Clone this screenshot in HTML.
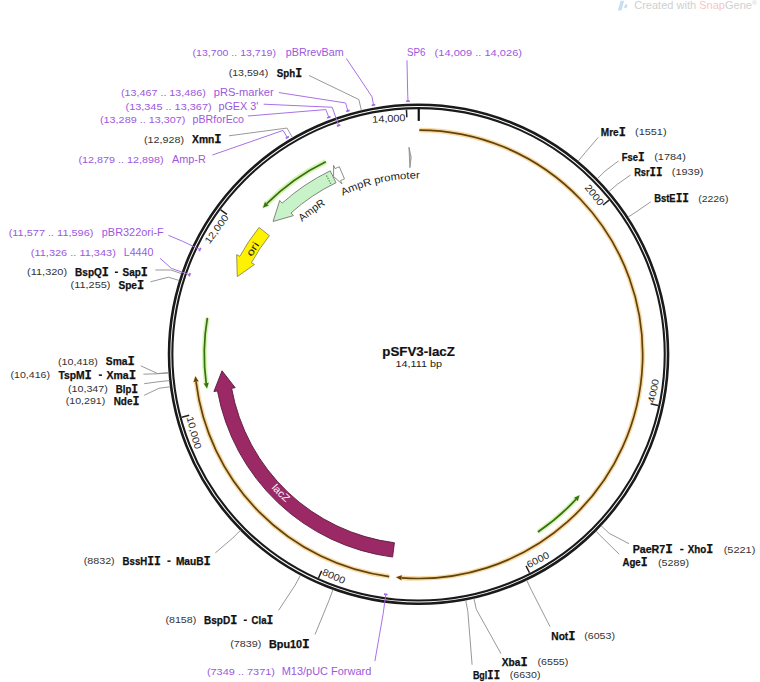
<!DOCTYPE html>
<html><head><meta charset="utf-8"><title>pSFV3-lacZ</title>
<style>
html,body{margin:0;padding:0;background:#fff;}
body{width:760px;height:682px;overflow:hidden;}
svg{display:block;font-family:"Liberation Sans",sans-serif;}
</style></head>
<body>
<svg width="760" height="682" viewBox="0 0 760 682">
<circle cx="418.55" cy="354.3" r="249.5" fill="none" stroke="#1a1a1a" stroke-width="2.6"/>
<circle cx="418.55" cy="354.3" r="246.2" fill="none" stroke="#1a1a1a" stroke-width="2.1"/>
<line x1="609.02" y1="200.2" x2="603.03" y2="205.04" stroke="#222" stroke-width="1.5"/>
<text transform="translate(418.55,354.3) rotate(51.02)" x="-1.4" y="-233.6" font-size="9.7" fill="#2a2a2a" text-anchor="end" textLength="23.91" lengthAdjust="spacingAndGlyphs">2000</text>
<line x1="658.15" y1="405.44" x2="650.62" y2="403.83" stroke="#222" stroke-width="1.5"/>
<text transform="translate(418.55,354.3) rotate(-77.95)" x="1.4" y="240.6" font-size="9.7" fill="#2a2a2a" textLength="23.91" lengthAdjust="spacingAndGlyphs">4000</text>
<line x1="529.5" y1="572.74" x2="526.02" y2="565.87" stroke="#222" stroke-width="1.5"/>
<text transform="translate(418.55,354.3) rotate(-26.93)" x="1.4" y="240.6" font-size="9.7" fill="#2a2a2a" textLength="23.91" lengthAdjust="spacingAndGlyphs">6000</text>
<line x1="318.52" y1="577.95" x2="321.67" y2="570.92" stroke="#222" stroke-width="1.5"/>
<text transform="translate(418.55,354.3) rotate(24.1)" x="1.4" y="240.6" font-size="9.7" fill="#2a2a2a" textLength="23.91" lengthAdjust="spacingAndGlyphs">8000</text>
<line x1="181.77" y1="417.21" x2="189.21" y2="415.24" stroke="#222" stroke-width="1.5"/>
<text transform="translate(418.55,354.3) rotate(75.12)" x="1.4" y="240.6" font-size="9.7" fill="#2a2a2a" textLength="33.31" lengthAdjust="spacingAndGlyphs">10,000</text>
<line x1="220.7" y1="209.79" x2="226.92" y2="214.34" stroke="#222" stroke-width="1.5"/>
<text transform="translate(418.55,354.3) rotate(-53.86)" x="-1.4" y="-233.6" font-size="9.7" fill="#2a2a2a" text-anchor="end" textLength="33.31" lengthAdjust="spacingAndGlyphs">12,000</text>
<line x1="406.45" y1="109.6" x2="406.83" y2="117.29" stroke="#222" stroke-width="1.5"/>
<text transform="translate(418.55,354.3) rotate(-2.83)" x="-1.4" y="-233.6" font-size="9.7" fill="#2a2a2a" text-anchor="end" textLength="33.31" lengthAdjust="spacingAndGlyphs">14,000</text>
<line x1="418.75" y1="108.8" x2="418.75" y2="120.9" stroke="#111" stroke-width="2.2"/>
<g opacity="0.6"><path d="M419.33,130.1 A224.2,224.2 0 1 1 401.57,577.86" fill="none" stroke="#f6c066" stroke-width="4.6" stroke-linecap="butt"/><path d="M396.09,577.37 L401.38,580.35 L401.76,575.36 Z" fill="#f6c066" stroke="#f6c066" stroke-width="1.0999999999999996" stroke-linejoin="round"/></g><path d="M419.33,130.1 A224.2,224.2 0 1 1 401.57,577.86" fill="none" stroke="#5f430e" stroke-width="1.7"/><path d="M396.09,577.37 L401.38,580.35 L401.76,575.36 Z" fill="#5f430e"/>
<g opacity="0.6"><path d="M389.29,576.58 A224.2,224.2 0 0 1 196.02,381.64" fill="none" stroke="#f6c066" stroke-width="4.6" stroke-linecap="butt"/><path d="M195.42,376.18 L193.54,381.95 L198.51,381.34 Z" fill="#f6c066" stroke="#f6c066" stroke-width="1.0999999999999996" stroke-linejoin="round"/></g><path d="M389.29,576.58 A224.2,224.2 0 0 1 196.02,381.64" fill="none" stroke="#5f430e" stroke-width="1.7"/><path d="M195.42,376.18 L193.54,381.95 L198.51,381.34 Z" fill="#5f430e"/>
<g opacity="0.9"><path d="M325.83,161.65 A213.8,213.8 0 0 0 266.78,203.72" fill="none" stroke="#cff5a8" stroke-width="5.2" stroke-linecap="butt"/><path d="M262.95,207.67 L265,201.96 L268.55,205.48 Z" fill="#cff5a8" stroke="#cff5a8" stroke-width="1.7000000000000002" stroke-linejoin="round"/></g><path d="M325.83,161.65 A213.8,213.8 0 0 0 266.78,203.72" fill="none" stroke="#3a6e12" stroke-width="1.7"/><path d="M262.95,207.67 L265,201.96 L268.55,205.48 Z" fill="#3a6e12"/>
<g opacity="0.85"><path d="M207.38,317.82 A214.3,214.3 0 0 0 206.2,383.12" fill="none" stroke="#cff5a8" stroke-width="4.8" stroke-linecap="butt"/><path d="M207.01,388.56 L203.72,383.46 L208.67,382.79 Z" fill="#cff5a8" stroke="#cff5a8" stroke-width="1.2999999999999998" stroke-linejoin="round"/></g><path d="M207.38,317.82 A214.3,214.3 0 0 0 206.2,383.12" fill="none" stroke="#3a6e12" stroke-width="1.7"/><path d="M207.01,388.56 L203.72,383.46 L208.67,382.79 Z" fill="#3a6e12"/>
<g opacity="0.85"><path d="M537.91,531.92 A214,214 0 0 0 575.89,499.35" fill="none" stroke="#cff5a8" stroke-width="4.8" stroke-linecap="butt"/><path d="M579.57,495.26 L577.73,501.05 L574.05,497.66 Z" fill="#cff5a8" stroke="#cff5a8" stroke-width="1.2999999999999998" stroke-linejoin="round"/></g><path d="M537.91,531.92 A214,214 0 0 0 575.89,499.35" fill="none" stroke="#3a6e12" stroke-width="1.7"/><path d="M579.57,495.26 L577.73,501.05 L574.05,497.66 Z" fill="#3a6e12"/>
<path d="M392.58,557.04 A204.4,204.4 0 0 1 217.46,390.92 L213.92,391.56 L222.04,370.8 L235.17,387.69 L231.62,388.34  A190,190 0 0 0 394.41,542.76 Z" fill="#9a2966" stroke="#5c1a3c" stroke-width="0.9" stroke-linejoin="miter"/>
<path d="M330.26,170.84 A203.6,203.6 0 0 0 282.12,203.17 L279.71,200.5 L273.07,221.46 L293.38,215.64 L290.96,212.97  A190.4,190.4 0 0 1 335.98,182.73 Z" fill="#c8f3c8" stroke="#808880" stroke-width="1.0" stroke-linejoin="miter"/>
<path d="M339.32,166.75 A203.6,203.6 0 0 0 335.05,168.61 L333.57,165.33 L333.58,176.56 L341.94,183.93 L340.46,180.65  A190.4,190.4 0 0 1 344.46,178.91 Z" fill="#ffffff" stroke="#808080" stroke-width="0.9" stroke-linejoin="miter"/>
<line x1="326.43" y1="175.43" x2="330.73" y2="183.79" stroke="#4f8a4f" stroke-width="1.1" stroke-dasharray="1.4 1.3"/>
<path d="M259.05,227.43 A203.8,203.8 0 0 0 239.82,256.37 L236.67,254.64 L237.3,276.61 L254.56,264.44 L251.4,262.71  A190.6,190.6 0 0 1 269.38,235.65 Z" fill="#fff200" stroke="#8a8a50" stroke-width="0.9" stroke-linejoin="miter"/>
<path d="M408.97,147.32 L411.15,157.24 L409.91,167.7 Z" fill="#d0d0d0" stroke="#808080" stroke-width="0.8" stroke-linejoin="round"/>
<path id="tp1" d="M242.66,343.85 A176.2,176.2 0 0 1 459.38,182.9" fill="none"/><text font-size="10.5" fill="#222" font-weight="normal"><textPath href="#tp1" startOffset="50%" text-anchor="middle" textLength="29.5" lengthAdjust="spacingAndGlyphs">AmpR</textPath></text>
<path id="tp2" d="M262.47,273.4 A175.8,175.8 0 0 1 525.33,214.64" fill="none"/><text font-size="10.4" fill="#222" font-weight="normal"><textPath href="#tp2" startOffset="50%" text-anchor="middle" textLength="79.5" lengthAdjust="spacingAndGlyphs">AmpR promoter</textPath></text>
<path id="tp3" d="M234.58,412.66 A193,193 0 0 1 393.02,163" fill="none"/><text font-size="10.2" fill="#222" font-weight="normal"><textPath href="#tp3" startOffset="50%" text-anchor="middle" textLength="14.5" lengthAdjust="spacingAndGlyphs">ori</textPath></text>
<path id="tp4" d="M220.25,337.65 A199,199 0 0 0 436.59,552.48" fill="none"/><text font-size="10.3" fill="#fff4fa" font-weight="normal"><textPath href="#tp4" startOffset="50%" text-anchor="middle" textLength="20.8" lengthAdjust="spacingAndGlyphs">lacZ</textPath></text>
<text x="418.6" y="356" font-size="13.3" font-weight="bold" fill="#111" stroke="#111" stroke-width="0.2" text-anchor="middle" textLength="72.5" lengthAdjust="spacingAndGlyphs">pSFV3-lacZ</text>
<text x="418.8" y="367" font-size="9.2" fill="#222" text-anchor="middle" textLength="46.5" lengthAdjust="spacingAndGlyphs">14,111 bp</text>
<polyline points="309,75.5 358.84,99.5 361.41,110.51" fill="none" stroke="#8c8c8c" stroke-width="0.9"/>
<text x="228.7" y="76" font-size="9.5" fill="#333" textLength="39.5" lengthAdjust="spacingAndGlyphs">(13,594)</text>
<text x="276.8" y="76.55" font-size="10.1" fill="#111" font-weight="bold" stroke="#111" stroke-width="0.25" textLength="25.2" lengthAdjust="spacingAndGlyphs">Sph<tspan font-family="Liberation Mono" font-size="11.92">I</tspan></text>
<polyline points="229,135.8 286.99,128.07 292.67,137.84" fill="none" stroke="#8c8c8c" stroke-width="0.9"/>
<text x="144" y="142.6" font-size="9.5" fill="#333" textLength="40" lengthAdjust="spacingAndGlyphs">(12,928)</text>
<text x="192.1" y="143.15" font-size="10.1" fill="#111" font-weight="bold" stroke="#111" stroke-width="0.25" textLength="29.5" lengthAdjust="spacingAndGlyphs">Xmn<tspan font-family="Liberation Mono" font-size="11.92">I</tspan></text>
<polyline points="155.3,270 170.81,269.98 181.5,273.62" fill="none" stroke="#8c8c8c" stroke-width="0.9"/>
<text x="27.1" y="275.3" font-size="9.5" fill="#333" textLength="40" lengthAdjust="spacingAndGlyphs">(11,320)</text>
<text x="75.1" y="275.85" font-size="10.1" fill="#111" font-weight="bold" stroke="#111" stroke-width="0.25" textLength="33.8" lengthAdjust="spacingAndGlyphs">BspQ<tspan font-family="Liberation Mono" font-size="11.92">I</tspan></text>
<rect x="114.9" y="271.5" width="3" height="1.5" fill="#111"/>
<text x="122.6" y="275.85" font-size="10.1" fill="#111" font-weight="bold" stroke="#111" stroke-width="0.25" textLength="25.3" lengthAdjust="spacingAndGlyphs">Sap<tspan font-family="Liberation Mono" font-size="11.92">I</tspan></text>
<polyline points="150.5,281.8 168.47,277.19 179.27,280.51" fill="none" stroke="#8c8c8c" stroke-width="0.9"/>
<text x="70.5" y="288.4" font-size="9.5" fill="#333" textLength="40" lengthAdjust="spacingAndGlyphs">(11,255)</text>
<text x="118.4" y="288.95" font-size="10.1" fill="#111" font-weight="bold" stroke="#111" stroke-width="0.25" textLength="25.8" lengthAdjust="spacingAndGlyphs">Spe<tspan font-family="Liberation Mono" font-size="11.92">I</tspan></text>
<polyline points="140.8,365.8 157.56,373.54 168.83,372.71" fill="none" stroke="#8c8c8c" stroke-width="0.9"/>
<text x="57.9" y="364.5" font-size="9.5" fill="#333" textLength="40" lengthAdjust="spacingAndGlyphs">(10,418)</text>
<text x="105.8" y="365.05" font-size="10.1" fill="#111" font-weight="bold" stroke="#111" stroke-width="0.25" textLength="28.9" lengthAdjust="spacingAndGlyphs">Sma<tspan font-family="Liberation Mono" font-size="11.92">I</tspan></text>
<polyline points="143.4,374.2 157.58,373.77 168.84,372.93" fill="none" stroke="#8c8c8c" stroke-width="0.9"/>
<text x="10.5" y="378.2" font-size="9.5" fill="#333" textLength="39.5" lengthAdjust="spacingAndGlyphs">(10,416)</text>
<text x="58.4" y="378.75" font-size="10.1" fill="#111" font-weight="bold" stroke="#111" stroke-width="0.25" textLength="33.5" lengthAdjust="spacingAndGlyphs">TspM<tspan font-family="Liberation Mono" font-size="11.92">I</tspan></text>
<rect x="98.8" y="374.4" width="3.2" height="1.5" fill="#111"/>
<text x="106.5" y="378.75" font-size="10.1" fill="#111" font-weight="bold" stroke="#111" stroke-width="0.25" textLength="29.6" lengthAdjust="spacingAndGlyphs">Xma<tspan font-family="Liberation Mono" font-size="11.92">I</tspan></text>
<polyline points="144.2,383.7 158.3,381.78 169.53,380.59" fill="none" stroke="#8c8c8c" stroke-width="0.9"/>
<text x="67.9" y="392.1" font-size="9.5" fill="#333" textLength="40" lengthAdjust="spacingAndGlyphs">(10,347)</text>
<text x="115.8" y="392.65" font-size="10.1" fill="#111" font-weight="bold" stroke="#111" stroke-width="0.25" textLength="22.4" lengthAdjust="spacingAndGlyphs">Blp<tspan font-family="Liberation Mono" font-size="11.92">I</tspan></text>
<polyline points="144.2,395.3 159.06,388.26 170.27,386.79" fill="none" stroke="#8c8c8c" stroke-width="0.9"/>
<text x="65.8" y="404" font-size="9.5" fill="#333" textLength="39.5" lengthAdjust="spacingAndGlyphs">(10,291)</text>
<text x="113.7" y="404.55" font-size="10.1" fill="#111" font-weight="bold" stroke="#111" stroke-width="0.25" textLength="25.8" lengthAdjust="spacingAndGlyphs">Nde<tspan font-family="Liberation Mono" font-size="11.92">I</tspan></text>
<polyline points="215.3,552.9 232.46,538.31 240.5,530.36" fill="none" stroke="#8c8c8c" stroke-width="0.9"/>
<text x="83.7" y="564.2" font-size="9.5" fill="#333" textLength="31" lengthAdjust="spacingAndGlyphs">(8832)</text>
<text x="122.6" y="564.75" font-size="10.1" fill="#111" font-weight="bold" stroke="#111" stroke-width="0.25" textLength="38.2" lengthAdjust="spacingAndGlyphs">BssH<tspan font-family="Liberation Mono" font-size="11.92">I</tspan><tspan font-family="Liberation Mono" font-size="11.92">I</tspan></text>
<rect x="167.4" y="560.4" width="3.2" height="1.5" fill="#111"/>
<text x="175.9" y="564.75" font-size="10.1" fill="#111" font-weight="bold" stroke="#111" stroke-width="0.25" textLength="34.9" lengthAdjust="spacingAndGlyphs">MauB<tspan font-family="Liberation Mono" font-size="11.92">I</tspan></text>
<polyline points="278.6,610.3 295.18,585.09 300.5,575.13" fill="none" stroke="#8c8c8c" stroke-width="0.9"/>
<text x="165.4" y="623.3" font-size="9.5" fill="#333" textLength="30.9" lengthAdjust="spacingAndGlyphs">(8158)</text>
<text x="204" y="623.85" font-size="10.1" fill="#111" font-weight="bold" stroke="#111" stroke-width="0.25" textLength="33.4" lengthAdjust="spacingAndGlyphs">BspD<tspan font-family="Liberation Mono" font-size="11.92">I</tspan></text>
<rect x="243.8" y="619.5" width="3" height="1.5" fill="#111"/>
<text x="251.6" y="623.85" font-size="10.1" fill="#111" font-weight="bold" stroke="#111" stroke-width="0.25" textLength="21.6" lengthAdjust="spacingAndGlyphs">Cla<tspan font-family="Liberation Mono" font-size="11.92">I</tspan></text>
<polyline points="315,634.5 329.09,600.24 332.95,589.62" fill="none" stroke="#8c8c8c" stroke-width="0.9"/>
<text x="230.2" y="647.2" font-size="9.5" fill="#333" textLength="31.2" lengthAdjust="spacingAndGlyphs">(7839)</text>
<text x="269" y="647.75" font-size="10.1" fill="#111" font-weight="bold" stroke="#111" stroke-width="0.25" textLength="40.8" lengthAdjust="spacingAndGlyphs">Bpu10<tspan font-family="Liberation Mono" font-size="11.92">I</tspan></text>
<polyline points="598.2,137.4 585.26,152.57 578.06,161.28" fill="none" stroke="#8c8c8c" stroke-width="0.9"/>
<text x="600.8" y="135.85" font-size="10.1" fill="#111" font-weight="bold" stroke="#111" stroke-width="0.25" textLength="25" lengthAdjust="spacingAndGlyphs">Mre<tspan font-family="Liberation Mono" font-size="11.92">I</tspan></text>
<text x="635" y="135.3" font-size="9.5" fill="#333" textLength="31.6" lengthAdjust="spacingAndGlyphs">(1551)</text>
<polyline points="618.4,161 605.25,170.92 597.19,178.83" fill="none" stroke="#8c8c8c" stroke-width="0.9"/>
<text x="621.8" y="160.85" font-size="10.1" fill="#111" font-weight="bold" stroke="#111" stroke-width="0.25" textLength="22.9" lengthAdjust="spacingAndGlyphs">Fse<tspan font-family="Liberation Mono" font-size="11.92">I</tspan></text>
<text x="654.2" y="160.3" font-size="9.5" fill="#333" textLength="31.6" lengthAdjust="spacingAndGlyphs">(1784)</text>
<polyline points="630.5,175 617.45,184.23 608.86,191.57" fill="none" stroke="#8c8c8c" stroke-width="0.9"/>
<text x="634.2" y="175.55" font-size="10.1" fill="#111" font-weight="bold" stroke="#111" stroke-width="0.25" textLength="28.4" lengthAdjust="spacingAndGlyphs">Rsr<tspan font-family="Liberation Mono" font-size="11.92">I</tspan><tspan font-family="Liberation Mono" font-size="11.92">I</tspan></text>
<text x="671.8" y="175" font-size="9.5" fill="#333" textLength="31.6" lengthAdjust="spacingAndGlyphs">(1939)</text>
<polyline points="650.8,201.8 637.51,210.96 628.05,217.15" fill="none" stroke="#8c8c8c" stroke-width="0.9"/>
<text x="654.2" y="202.35" font-size="10.1" fill="#111" font-weight="bold" stroke="#111" stroke-width="0.25" textLength="34.8" lengthAdjust="spacingAndGlyphs">BstE<tspan font-family="Liberation Mono" font-size="11.92">I</tspan><tspan font-family="Liberation Mono" font-size="11.92">I</tspan></text>
<text x="698.2" y="201.8" font-size="9.5" fill="#333" textLength="30.2" lengthAdjust="spacingAndGlyphs">(2226)</text>
<polyline points="629,543.7 609.33,533.44 601.09,525.7" fill="none" stroke="#8c8c8c" stroke-width="0.9"/>
<text x="632.7" y="553.15" font-size="10.1" fill="#111" font-weight="bold" stroke="#111" stroke-width="0.25" textLength="40.1" lengthAdjust="spacingAndGlyphs">PaeR7<tspan font-family="Liberation Mono" font-size="11.92">I</tspan></text>
<rect x="680.2" y="548.8" width="3.3" height="1.5" fill="#111"/>
<text x="687.8" y="553.15" font-size="10.1" fill="#111" font-weight="bold" stroke="#111" stroke-width="0.25" textLength="25.5" lengthAdjust="spacingAndGlyphs">Xho<tspan font-family="Liberation Mono" font-size="11.92">I</tspan></text>
<text x="723.7" y="552.6" font-size="9.5" fill="#333" textLength="31.6" lengthAdjust="spacingAndGlyphs">(5221)</text>
<polyline points="619.2,554.2 603.82,539.13 595.82,531.15" fill="none" stroke="#8c8c8c" stroke-width="0.9"/>
<text x="622.4" y="566.35" font-size="10.1" fill="#111" font-weight="bold" stroke="#111" stroke-width="0.25" textLength="25.2" lengthAdjust="spacingAndGlyphs">Age<tspan font-family="Liberation Mono" font-size="11.92">I</tspan></text>
<text x="657.9" y="565.8" font-size="9.5" fill="#333" textLength="31.1" lengthAdjust="spacingAndGlyphs">(5289)</text>
<polyline points="550,626.6 531.53,590.36 526.65,580.16" fill="none" stroke="#8c8c8c" stroke-width="0.9"/>
<text x="551.3" y="639.55" font-size="10.1" fill="#111" font-weight="bold" stroke="#111" stroke-width="0.25" textLength="24.2" lengthAdjust="spacingAndGlyphs">Not<tspan font-family="Liberation Mono" font-size="11.92">I</tspan></text>
<text x="584.2" y="639" font-size="9.5" fill="#333" textLength="30.8" lengthAdjust="spacingAndGlyphs">(6053)</text>
<polyline points="501,653.7 476.39,609.53 473.89,598.51" fill="none" stroke="#8c8c8c" stroke-width="0.9"/>
<text x="501.8" y="665.85" font-size="10.1" fill="#111" font-weight="bold" stroke="#111" stroke-width="0.25" textLength="25.8" lengthAdjust="spacingAndGlyphs">Xba<tspan font-family="Liberation Mono" font-size="11.92">I</tspan></text>
<text x="537.4" y="665.3" font-size="9.5" fill="#333" textLength="31" lengthAdjust="spacingAndGlyphs">(6555)</text>
<polyline points="472.1,664.7 467.84,611.32 465.71,600.22" fill="none" stroke="#8c8c8c" stroke-width="0.9"/>
<text x="472.9" y="678.95" font-size="10.1" fill="#111" font-weight="bold" stroke="#111" stroke-width="0.25" textLength="27.1" lengthAdjust="spacingAndGlyphs">Bgl<tspan font-family="Liberation Mono" font-size="11.92">I</tspan><tspan font-family="Liberation Mono" font-size="11.92">I</tspan></text>
<text x="509.7" y="678.4" font-size="9.5" fill="#333" textLength="30.8" lengthAdjust="spacingAndGlyphs">(6630)</text>
<polyline points="346.3,58.4 372.01,96.77 373.49,104.94" fill="none" stroke="#a468e6" stroke-width="0.95"/><line x1="371.72" y1="105.27" x2="375.26" y2="104.62" stroke="#a468e6" stroke-width="1.8"/>
<text x="192.6" y="55.8" font-size="9.5" fill="#9c58de" textLength="83.4" lengthAdjust="spacingAndGlyphs">(13,700 .. 13,719)</text>
<text x="285.8" y="55.8" font-size="10.3" fill="#9c58de" textLength="57.9" lengthAdjust="spacingAndGlyphs">pBRrevBam</text>
<polyline points="279,92.6 345.59,102.98 347.91,110.95" fill="none" stroke="#a468e6" stroke-width="0.95"/><line x1="346.18" y1="111.45" x2="349.64" y2="110.45" stroke="#a468e6" stroke-width="1.8"/>
<text x="121" y="95.8" font-size="9.5" fill="#9c58de" textLength="84.8" lengthAdjust="spacingAndGlyphs">(13,467 .. 13,486)</text>
<text x="213.7" y="95.8" font-size="10.3" fill="#9c58de" textLength="60" lengthAdjust="spacingAndGlyphs">pRS-marker</text>
<polyline points="263.7,104.2 332.22,107.25 338.59,125.47" fill="none" stroke="#a468e6" stroke-width="0.95"/><line x1="336.89" y1="126.07" x2="340.29" y2="124.88" stroke="#a468e6" stroke-width="1.8"/>
<text x="125.5" y="109.5" font-size="9.5" fill="#9c58de" textLength="86.1" lengthAdjust="spacingAndGlyphs">(13,345 .. 13,367)</text>
<text x="218.4" y="109.5" font-size="10.3" fill="#9c58de" textLength="40" lengthAdjust="spacingAndGlyphs">pGEX 3'</text>
<polyline points="247.9,116 325.87,109.56 328.81,117.32" fill="none" stroke="#a468e6" stroke-width="0.95"/><line x1="327.13" y1="117.97" x2="330.49" y2="116.69" stroke="#a468e6" stroke-width="1.8"/>
<text x="100" y="122.6" font-size="9.5" fill="#9c58de" textLength="85.3" lengthAdjust="spacingAndGlyphs">(13,289 .. 13,307)</text>
<text x="192.6" y="122.6" font-size="10.3" fill="#9c58de" textLength="51.4" lengthAdjust="spacingAndGlyphs">pBRforEco</text>
<polyline points="212.4,155 283.03,130.42 287.33,137.52" fill="none" stroke="#a468e6" stroke-width="0.95"/><line x1="285.79" y1="138.46" x2="288.87" y2="136.6" stroke="#a468e6" stroke-width="1.8"/>
<text x="78.5" y="162.9" font-size="9.5" fill="#9c58de" textLength="85.2" lengthAdjust="spacingAndGlyphs">(12,879 .. 12,898)</text>
<text x="172.1" y="162.9" font-size="10.3" fill="#9c58de" textLength="33.7" lengthAdjust="spacingAndGlyphs">Amp-R</text>
<polyline points="168.4,235.3 182.53,241.24 199.94,249.58" fill="none" stroke="#a468e6" stroke-width="0.95"/><line x1="199.16" y1="251.21" x2="200.72" y2="247.96" stroke="#a468e6" stroke-width="1.8"/>
<text x="8.7" y="236.3" font-size="9.5" fill="#9c58de" textLength="84.7" lengthAdjust="spacingAndGlyphs">(11,577 .. 11,596)</text>
<text x="101.8" y="236.3" font-size="10.3" fill="#9c58de" textLength="61.9" lengthAdjust="spacingAndGlyphs">pBR322ori-F</text>
<polyline points="160,258.2 171.36,268.38 189.59,274.72" fill="none" stroke="#a468e6" stroke-width="0.95"/><line x1="189" y1="276.42" x2="190.18" y2="273.02" stroke="#a468e6" stroke-width="1.8"/>
<text x="30.8" y="255.5" font-size="9.5" fill="#9c58de" textLength="85" lengthAdjust="spacingAndGlyphs">(11,326 .. 11,343)</text>
<text x="123.7" y="255.5" font-size="10.3" fill="#9c58de" textLength="29.7" lengthAdjust="spacingAndGlyphs">L4440</text>
<polyline points="374.9,661.1 383.18,613.6 385.78,594.48" fill="none" stroke="#a468e6" stroke-width="0.95"/><line x1="387.57" y1="594.71" x2="384" y2="594.23" stroke="#a468e6" stroke-width="1.8"/>
<text x="206.9" y="675.1" font-size="9.5" fill="#9c58de" textLength="68.1" lengthAdjust="spacingAndGlyphs">(7349 .. 7371)</text>
<text x="281.7" y="675.1" font-size="10.3" fill="#9c58de" textLength="89.6" lengthAdjust="spacingAndGlyphs">M13/pUC Forward</text>
<polyline points="407,60.3 407.66,92.83 408,101.12" fill="none" stroke="#a468e6" stroke-width="0.95"/><line x1="406.21" y1="101.2" x2="409.8" y2="101.05" stroke="#a468e6" stroke-width="1.8"/>
<text x="407" y="55.7" font-size="10.3" fill="#9c58de" textLength="18.4" lengthAdjust="spacingAndGlyphs">SP6</text>
<text x="434.6" y="55.7" font-size="9.5" fill="#9c58de" textLength="87.4" lengthAdjust="spacingAndGlyphs">(14,009 .. 14,026)</text>
<path d="M620.6,0.8 L624.2,0.8 L621.4,10.4 L617.8,10.4 Z" fill="#c6dff0"/>
<path d="M625,4.6 L627.6,4.6 L626.6,8 L624,8 Z" fill="#c6dff0"/>
<text x="634.2" y="9.0" font-size="10.2" fill="#d0d0d0" textLength="122.5" lengthAdjust="spacingAndGlyphs">Created with <tspan fill="#f5c6c6">Snap</tspan>Gene<tspan font-size="6" dy="-4">&#174;</tspan></text>
</svg>
</body></html>
